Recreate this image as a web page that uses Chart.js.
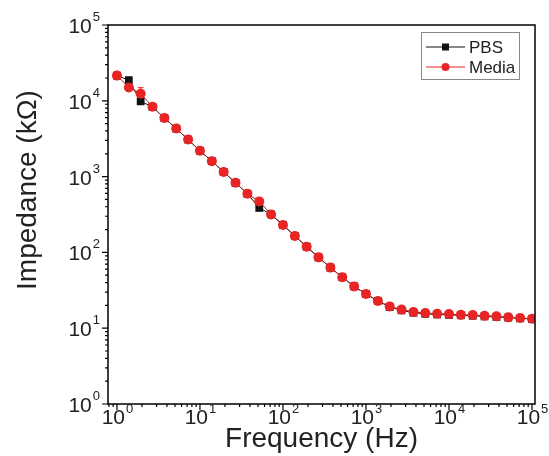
<!DOCTYPE html>
<html>
<head>
<meta charset="utf-8">
<script src="https://cdn.jsdelivr.net/npm/chart.js@4/dist/chart.umd.min.js"></script>
<style>
  html, body { margin: 0; padding: 0; background: #fff; }
  #wrap { width: 549px; height: 456px; }
</style>
</head>
<body>
<div id="wrap"><canvas id="canvas" width="549" height="456"></canvas></div>
<script>
// frequency points (Hz), 7 per decade
const freqHz = [1, 1.39, 1.93, 2.68, 3.73, 5.18, 7.2,
  10, 13.9, 19.3, 26.8, 37.3, 51.8, 72,
  100, 139, 193, 268, 373, 518, 720,
  1000, 1390, 1930, 2680, 3730, 5180, 7200,
  10000, 13900, 19300, 26800, 37300, 51800, 72000, 100000];

// impedance in kOhm
const pbsImpedance = [21500, 18700, 9840, 8300, 5900, 4300, 3080,
  2190, 1600, 1150, 828, 594, 386, 317,
  230, 165, 119, 86, 63, 47, 35.6,
  28.2, 22.9, 19.0, 17.2, 16.0, 15.5, 15.2,
  15.0, 14.8, 14.6, 14.3, 14.1, 13.8, 13.5, 13.2];
const mediaImpedance = [21500, 15000, 12400, 8340, 5930, 4300, 3080,
  2190, 1600, 1150, 828, 594, 471, 317,
  230, 165, 119, 86, 63, 47, 35.6,
  28.2, 22.9, 19.4, 17.6, 16.4, 15.9, 15.5,
  15.4, 15.0, 14.9, 14.6, 14.4, 13.9, 13.6, 13.3];

// error bars (same units)
const pbsError = [800, 1800, 900, 300, 200, 150, 100,
  60, 50, 30, 20, 15, 12, 8,
  6, 4, 3, 2, 1.5, 1, 0.8,
  0.6, 0.5, 0.4, 0.3, 0.3, 0.3, 0.3,
  0.3, 0.3, 0.3, 0.3, 0.3, 0.3, 0.3, 0.3];
const mediaError = [700, 900, 2500, 300, 200, 150, 100,
  60, 50, 30, 20, 15, 15, 8,
  6, 4, 3, 2, 1.5, 1, 0.8,
  0.6, 0.5, 0.4, 0.3, 0.3, 0.3, 0.3,
  0.3, 0.3, 0.3, 0.3, 0.3, 0.3, 0.3, 0.3];

// tick labels are 10^n
const xTickExponents = ['0', '1', '2', '3', '4', '5'];
const yTickExponents = ['0', '1', '2', '3', '4', '5'];

const RED = 'rgb(232,36,36)';
const FONT = '"Liberation Sans", Arial, sans-serif';

function toPoints(xs, ys) {
  return xs.map((x, i) => ({ x: x, y: ys[i] }));
}

// draws error bars, frame, ticks, labels, titles and the legend
const decorPlugin = {
  id: 'decor',
  beforeDatasetsDraw(chart) {
    const ctx = chart.ctx;
    const xs = chart.scales.x, ys = chart.scales.y;
    const sets = [[pbsImpedance, pbsError, '#666'], [mediaImpedance, mediaError, RED]];
    ctx.save();
    ctx.lineWidth = 1;
    sets.forEach(s => {
      ctx.strokeStyle = s[2];
      freqHz.forEach((f, i) => {
        const px = xs.getPixelForValue(f);
        const top = ys.getPixelForValue(s[0][i] + s[1][i]);
        const bot = ys.getPixelForValue(Math.max(s[0][i] - s[1][i], 1));
        ctx.beginPath();
        ctx.moveTo(px, top); ctx.lineTo(px, bot);
        ctx.moveTo(px - 3, top); ctx.lineTo(px + 3, top);
        ctx.moveTo(px - 3, bot); ctx.lineTo(px + 3, bot);
        ctx.stroke();
      });
    });
    ctx.restore();
  },
  afterDraw(chart) {
    const ctx = chart.ctx;
    const a = chart.chartArea;
    const xs = chart.scales.x, ys = chart.scales.y;
    ctx.save();
    ctx.strokeStyle = '#000';
    ctx.lineWidth = 1.5;
    ctx.strokeRect(a.left, a.top, a.right - a.left, a.bottom - a.top);

    // ticks
    ctx.lineWidth = 1.2;
    ctx.beginPath();
    for (let d = -1; d <= 5; d++) {
      for (let m = 1; m <= 9; m++) {
        const v = m * Math.pow(10, d);
        const len = m === 1 ? 6 : 3;
        if (v >= xs.min && v <= xs.max) {
          const px = xs.getPixelForValue(v);
          ctx.moveTo(px, a.bottom); ctx.lineTo(px, a.bottom + len);
        }
        if (v >= ys.min && v <= ys.max) {
          const py = ys.getPixelForValue(v);
          ctx.moveTo(a.left, py); ctx.lineTo(a.left - len, py);
        }
      }
    }
    ctx.stroke();

    // tick labels
    ctx.fillStyle = '#222';
    xTickExponents.forEach(e => {
      const px = xs.getPixelForValue(Math.pow(10, Number(e)));
      ctx.font = '21px ' + FONT;
      const w = ctx.measureText('10').width;
      ctx.font = '13px ' + FONT;
      const we = ctx.measureText(e).width;
      const x0 = px - (w + we) / 2;
      ctx.textAlign = 'left';
      ctx.textBaseline = 'alphabetic';
      ctx.font = '21px ' + FONT;
      ctx.fillText('10', x0, a.bottom + 20);
      ctx.font = '13px ' + FONT;
      ctx.fillText(e, x0 + w + 1, a.bottom + 9);
    });
    yTickExponents.forEach(e => {
      const py = ys.getPixelForValue(Math.pow(10, Number(e)));
      ctx.font = '13px ' + FONT;
      const we = ctx.measureText(e).width;
      const xr = a.left - 8;
      ctx.textAlign = 'left';
      ctx.fillText(e, xr - we, py - 4);
      ctx.font = '21px ' + FONT;
      ctx.textAlign = 'right';
      ctx.fillText('10', xr - we - 1, py + 8);
    });

    // axis titles
    ctx.fillStyle = '#222';
    ctx.font = '28px ' + FONT;
    ctx.textAlign = 'center';
    ctx.textBaseline = 'middle';
    ctx.fillText('Frequency (Hz)', (a.left + a.right) / 2, a.bottom + 35);
    ctx.save();
    ctx.translate(28, 190);
    ctx.rotate(-Math.PI / 2);
    ctx.fillText('Impedance (k\u03A9)', 0, 0);
    ctx.restore();

    // legend
    const lx = 421, ly = 32, lw = 98, lh = 47;
    ctx.fillStyle = '#fff';
    ctx.fillRect(lx, ly, lw, lh);
    ctx.strokeStyle = '#888';
    ctx.lineWidth = 1;
    ctx.strokeRect(lx + 0.5, ly + 0.5, lw, lh);
    const rows = [['PBS', '#111', 'rect'], ['Media', RED, 'circle']];
    rows.forEach((r, i) => {
      const yy = ly + 15 + i * 20;
      ctx.strokeStyle = r[1];
      ctx.lineWidth = 1;
      ctx.beginPath();
      ctx.moveTo(lx + 5, yy); ctx.lineTo(lx + 44, yy);
      ctx.stroke();
      ctx.fillStyle = r[1];
      if (r[2] === 'rect') {
        ctx.fillRect(lx + 21, yy - 3.5, 7, 7);
      } else {
        ctx.beginPath();
        ctx.arc(lx + 24.5, yy, 4, 0, Math.PI * 2);
        ctx.fill();
      }
      ctx.fillStyle = '#222';
      ctx.font = '17px ' + FONT;
      ctx.textAlign = 'left';
      ctx.textBaseline = 'middle';
      ctx.fillText(r[0], lx + 48, yy + 1);
    });
    ctx.restore();
  }
};

const ctx = document.getElementById('canvas');
new Chart(ctx, {
  type: 'line',
  data: {
    datasets: [
      {
        label: 'PBS',
        data: toPoints(freqHz, pbsImpedance),
        borderColor: '#111',
        backgroundColor: '#111',
        borderWidth: 1,
        pointStyle: 'rect',
        pointRadius: 5.5,
        pointBorderWidth: 0,
        order: 1
      },
      {
        label: 'Media',
        data: toPoints(freqHz, mediaImpedance),
        borderColor: 'rgb(150,40,30)',
        backgroundColor: RED,
        borderWidth: 1,
        pointStyle: 'circle',
        pointRadius: 5,
        pointBorderWidth: 0,
        order: 0
      }
    ]
  },
  options: {
    responsive: false,
    animation: false,
    layout: { padding: { left: 108, right: 14, top: 25, bottom: 52 } },
    plugins: {
      legend: { display: false },
      tooltip: { enabled: false }
    },
    scales: {
      x: { type: 'logarithmic', min: 0.78, max: 108700, display: false },
      y: { type: 'logarithmic', min: 1, max: 100000, display: false }
    }
  },
  plugins: [decorPlugin]
});
</script>
</body>
</html>
